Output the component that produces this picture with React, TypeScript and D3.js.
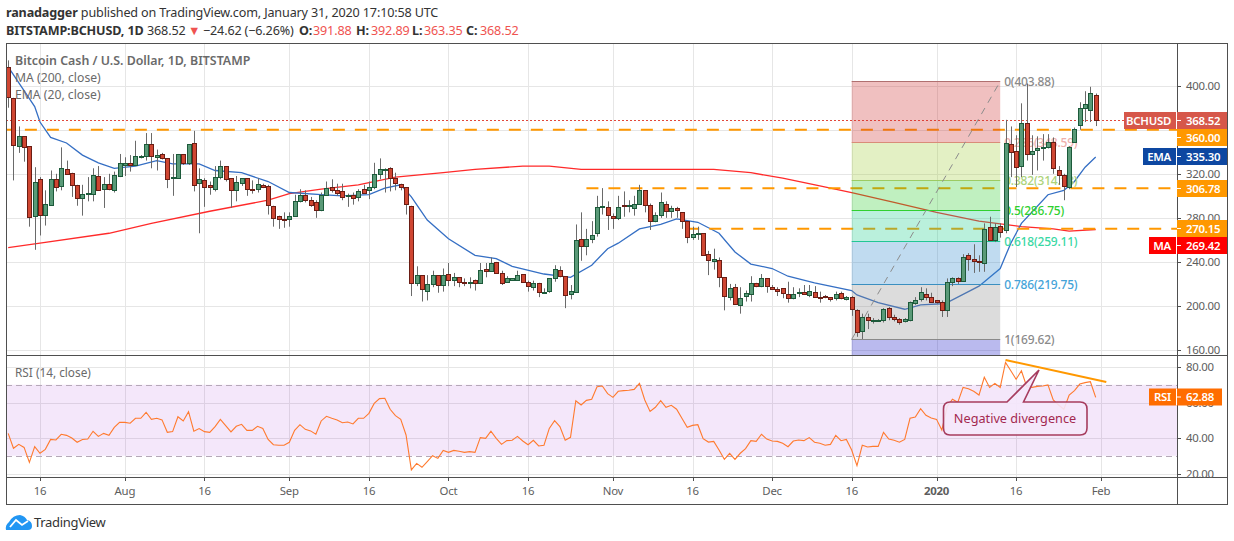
import React from "react";
import * as d3 from "d3";

const width = 1234;
const height = 541;

const firstDay = new Date(Date.UTC(2019, 6, 10));

// daily candles, Jul 10 2019 to Jan 31 2020
const opens = [417,389,345,354,345,282,315,283,292,315,309,324,321,310,298,302,302,318,306,311,305,318,328,330,328,335,336,347,335,338,334,316,316,338,330,348,312,314,310,306,317,327,316,305,312,316,306,306,310,309,291,282,279,279,282,295,301,296,294,287,301,308,305,304,300,301,299,306,305,308,320,323,325,316,311,308,291,221,228,214,220,228,219,229,224,226,222,221,224,221,234,232,240,230,222,224,224,229,222,217,221,212,214,225,233,227,211,213,261,254,261,266,290,290,282,280,292,291,289,293,305,292,277,283,293,286,289,285,277,263,265,266,247,241,242,226,208,217,201,209,211,221,218,225,217,215,216,211,207,212,213,210,213,208,209,208,207,212,206,208,196,177,190,187,187,187,198,190,188,186,187,203,206,211,208,205,204,196,222,225,223,246,243,241,239,272,260,273,269,347,341,327,366,338,342,343,344,349,323,319,308,349,364,380,378,391.88];
const highs = [423,389,363,354,345,326,317,305,323,320,344,332,321,310,310,317,325,327,317,320,322,338,335,337,350,337,357,357,342,339,334,338,338,338,347,359,325,316,313,327,332,327,316,318,316,316,314,316,311,310,291,282,285,285,301,306,305,299,296,303,313,315,311,311,302,303,306,310,313,330,334,325,326,321,311,308,291,236,228,228,232,228,234,239,230,226,225,226,224,239,239,244,240,232,227,225,232,229,223,223,221,216,225,237,236,227,219,274,285,270,277,300,307,295,284,300,304,296,300,310,305,293,285,303,295,291,290,285,277,272,272,266,250,252,244,226,220,220,217,214,227,221,229,225,219,217,216,222,217,216,219,219,218,213,210,208,213,213,209,209,197,193,193,189,188,198,199,192,189,189,204,208,217,216,212,205,205,225,226,226,247,248,256,246,275,281,275,275,369,363,355,384,402,355,354,356,356,353,327,320,345,362,385,395,399,392.89];
const lows = [380,314,339,331,272,251,264,273,292,304,305,319,299,291,282,295,295,305,289,305,303,317,318,322,328,334,332,325,323,333,307,300,316,328,328,304,266,290,301,304,315,313,289,295,309,300,302,303,307,283,272,270,271,272,281,294,294,290,280,286,300,303,300,296,290,292,295,302,297,306,315,303,304,305,305,283,209,218,204,205,217,212,213,218,218,217,218,216,214,220,226,231,229,219,221,224,223,221,213,214,208,212,212,222,226,198,206,213,241,246,257,263,283,269,270,278,281,285,282,292,285,269,276,280,280,280,280,270,257,260,260,246,228,233,217,196,205,201,193,204,204,217,217,212,215,209,207,203,206,208,210,208,208,203,207,204,205,206,205,191,172,170,179,184,186,185,187,186,183,185,186,201,204,205,203,202,190,190,218,220,222,232,230,231,231,259,258,262,266,317,308,317,332,319,323,332,343,320,310,296,306,349,360,367,367,363.35];
const closes = [390,346,354,344,281,313,283,293,315,308,325,320,310,298,302,303,319,305,311,306,319,330,330,328,336,336,347,336,337,334,315,317,338,330,347,310,315,308,308,317,327,315,305,313,316,306,305,311,308,292,280,279,278,282,295,301,296,292,287,301,307,305,303,299,301,298,304,303,308,320,324,324,316,312,308,293,221,228,215,220,228,219,228,224,226,222,221,222,221,233,232,239,230,221,225,225,228,222,218,221,213,213,225,234,227,210,214,260,254,261,264,290,291,283,280,290,291,292,293,305,292,277,283,294,286,289,287,277,263,265,266,246,242,243,226,209,216,202,207,212,221,218,225,218,215,214,212,207,211,213,211,214,208,207,208,206,211,207,208,197,176,190,187,187,187,197,190,188,185,188,204,205,213,208,204,204,196,222,225,223,244,243,241,240,270,260,272,267,348,340,326,366,338,341,343,344,349,325,319,309,344,361,380,383,393,368.52];

// indicator readings as [day since first candle] / value pairs
const emaDays = [0,5,6,8,11,14,17,20,24,28,31,36,39,44,49,53,59,63,68,71,74,76,78,79,83,88,92,95,101,106,110,113,115,119,123,126,130,134,137,140,144,147,152,159,160,164,169,172,176,177,183,187,189,191,196,199,201,203,205];
const emaValues = [417,381,367,353,348,337,330,325,327,332,329,329,323,321,313,303,301,300,301,307,310,299,285,278,261,246,243,236,229,226,237,252,257,270,274,279,276,266,249,238,234,227,221,214,210,203,197,201,202,203,218,234,257,275,301,305,313,326,335.3];
const maDays = [0,6,19,27,38,49,53,59,66,73,82,88,97,102,108,133,140,146,153,159,167,175,183,191,197,200,205];
const maValues = [253,257,266,275,286,296,302,306,310,317,321,324,327,327,324,324,321,316,309,303,294,285,277,272,270,268,269.42];
const rsiValues = [42.6,34.2,36.4,34.7,26.3,35.1,31.4,33.6,39.2,38.9,42.1,41.5,40,37.6,39.2,39.4,43.8,40.9,42.6,41.5,46,48.8,48.8,48.3,51.1,51.1,54.5,50.5,51.1,50.2,43.2,43.6,52,49.6,54.8,43.8,45.3,43.6,43.2,46.4,50.5,47,43.4,46.6,47.7,44.3,44.3,46.6,45.4,39.2,36.2,35.9,35.9,37.6,44.3,47.5,44.9,44,42.1,49.6,52.2,51.1,50.2,48.6,49,47.9,51.1,51.1,53.9,59.5,62.2,62.4,56.2,52.6,50.5,41.7,22,25.7,23.5,26.7,30,28.5,33,31.9,33,32.5,31.9,32.3,31.9,40.2,39.8,43.8,39.8,36.4,38.5,38.7,40.9,38.3,36.2,38.7,35.5,35.9,45.4,49.8,46.4,38.7,40.4,61,58.6,61.2,61.8,68.9,69.3,65,62.9,66.3,66.7,66.9,67.4,70.8,61.4,55,57.3,61,57.3,58.4,56.2,51.1,46,47.1,47.5,39.6,37.7,38.1,33.2,28,31.4,28,31.4,34,38.5,38.1,42.1,39.4,38.3,38.1,37,35.1,38.3,38.9,38.5,40.2,37.6,37,35.9,36.4,41.5,38.5,39.2,33.2,24.4,35.9,34.9,35.3,35.3,43.2,39.4,38.7,37.6,39.2,51.1,51.8,56.5,52.8,51.3,50.5,44.5,57.6,61.8,60.1,68.5,67.8,66.3,64.2,74.2,68.5,70.8,68.5,82.6,77.9,73.1,77.9,68.9,68.5,69.1,69.3,69.9,61.4,58.6,56.2,64.2,66.7,70.4,71.2,71.7,62.88];

// axis
const priceTicks = [160, 200, 240, 280, 320, 360, 400];
const hiddenPriceLabels = [360]; // sits right under the 360.00 level tag
const rsiTicks = [20, 40, 60, 80];
const timeTicks: [string, string][] = [
  ["2019-07-16", "16"], ["2019-08-01", "Aug"], ["2019-08-16", "16"], ["2019-09-01", "Sep"],
  ["2019-09-16", "16"], ["2019-10-01", "Oct"], ["2019-10-16", "16"], ["2019-11-01", "Nov"],
  ["2019-11-16", "16"], ["2019-12-01", "Dec"], ["2019-12-16", "16"], ["2020-01-01", "2020"],
  ["2020-01-16", "16"], ["2020-02-01", "Feb"],
];

// fib retracement
const fibStart = "2019-12-16";
const fibEnd = "2020-01-13";
const fibLevels = [0, 0.236, 0.382, 0.5, 0.618, 0.786, 1];
const fibPrices = [403.88, 348.59, 314.13, 286.75, 259.11, 219.75, 169.62];
const fibLabels = ["0(403.88)", "0.236(348.59)", "0.382(314.13)", "0.5(286.75)", "0.618(259.11)", "0.786(219.75)", "1(169.62)"];
const fibFills = ["rgb(205,45,45)", "rgb(162,205,58)", "rgb(45,205,45)", "rgb(28,205,138)", "rgb(45,135,205)", "rgb(138,138,138)", "rgb(25,25,198)"];
const fibLines = ["#b07070", "#d98c78", "#9ccb62", "#2fd02f", "#22c795", "#3a8fc0", "#8a8a8a"];
const fibText = ["#8a8a8a", "#eeb0ac", "#acd37a", "#2fd02f", "#3ad8a4", "#44a3d8", "#8a8a8a"];

// horizontal levels
const levelPrices = [360, 306.78, 270.15];
const levelStarts = ["2019-07-09", "2019-10-27", "2019-11-15"];

const trendDates = ["2020-01-14", "2020-02-02"];
const trendRsi = [84, 71.5];

const font = "'Noto Sans', sans-serif";
const grey = "#5d5d5d";
const up = { fill: "#5a9a78", line: "#1c5a3a" };
const down = { fill: "#cf4632", line: "#6a1d14" };

const left = 6;
const right = 1177;
const mainTop = 43;
const mainBottom = 355;
const rsiBottom = 477;
const frameBottom = 504;
const frameRight = 1227;

const parse = (s: string) => new Date(s + "T00:00:00Z");
const dayAt = (i: number) => d3.utcDay.offset(firstDay, i);

const x = d3.scaleUtc().domain([parse("2019-07-16"), parse("2020-02-01")]).range([40, 1101]);
const y = d3.scaleLinear().domain([400, 160]).range([85.7, 350]);
const yRsi = d3.scaleLinear().domain([80, 20]).range([367, 473.5]);

const priceLine = d3.line<[number, number]>().x((d) => x(dayAt(d[0]))).y((d) => y(d[1]));
const rsiLine = d3.line<number>().x((_, i) => x(dayAt(i))).y((d) => yRsi(d));

const crisp = (v: number) => Math.round(v) + 0.5;

const AxisTag = ({ top, h = 17, from, to = frameRight, name, value, fill }: any) => (
  <g fontFamily={font} fontSize={11.4} fontWeight={600} fill="#fff" letterSpacing={-0.25}>
    <rect x={from ?? right} y={top} width={to - (from ?? right)} height={h} fill={fill} />
    <line x1={right} x2={right + 4} y1={top + h / 2} y2={top + h / 2} stroke="#fff" />
    {name && (
      <>
        <line x1={right - 0.5} x2={right - 0.5} y1={top} y2={top + h} stroke="#fff" />
        <text x={1171} y={top + h / 2 + 4.2} textAnchor="end">{name}</text>
      </>
    )}
    <text x={1186} y={top + h / 2 + 4.2}>{value}</text>
  </g>
);

export default function App() {
  const fibX0 = x(parse(fibStart));
  const fibX1 = x(parse(fibEnd));
  const bandTop = yRsi(70);
  const bandBottom = yRsi(30);

  return (
    <svg width={width} height={height} style={{ position: "absolute", top: 0, left: 0, background: "#fff" }}>
      <defs>
        <clipPath id="main"><rect x={left} y={mainTop} width={right - left} height={mainBottom - mainTop} /></clipPath>
        <clipPath id="rsi"><rect x={left} y={mainBottom} width={right - left} height={rsiBottom - mainBottom} /></clipPath>
      </defs>

      {/* header */}
      <text x={6} y={17} fontFamily={font} fontSize={12.6} letterSpacing={-0.15} fill="#333">
        <tspan fontWeight={700}>ranadagger</tspan> published on TradingView.com, January 31, 2020 17:10:58 UTC
      </text>
      <text y={35} fontFamily={font} fontSize={12.6} letterSpacing={-0.15} fill="#333">
        <tspan x={6} fontWeight={700}>BITSTAMP:BCHUSD, 1D</tspan>
        <tspan x={147}>368.52</tspan>
        <tspan x={188} fill="#ef5350">▼</tspan>
        <tspan x={203}>−24.62 (−6.26%)</tspan>
        <tspan x={299} fontWeight={700}>O:</tspan><tspan x={313} fill="#ef5350">391.88</tspan>
        <tspan x={356} fontWeight={700}>H:</tspan><tspan x={371} fill="#ef5350">392.89</tspan>
        <tspan x={412} fontWeight={700}>L:</tspan><tspan x={424} fill="#ef5350">363.35</tspan>
        <tspan x={466} fontWeight={700}>C:</tspan><tspan x={480} fill="#ef5350">368.52</tspan>
      </text>

      {/* grid */}
      <g stroke="#e6e6e6" strokeWidth={1}>
        {timeTicks.map(([d]) => (
          <line key={d} x1={crisp(x(parse(d)))} x2={crisp(x(parse(d)))} y1={mainTop} y2={rsiBottom} />
        ))}
        {priceTicks.map((t) => (
          <line key={t} x1={left} x2={right} y1={crisp(y(t))} y2={crisp(y(t))} />
        ))}
        {rsiTicks.map((t) => (
          <line key={t} x1={left} x2={right} y1={crisp(yRsi(t))} y2={crisp(yRsi(t))} />
        ))}
      </g>

      {/* main pane */}
      <g clipPath="url(#main)">
        <path d={priceLine(maDays.map((d, i) => [d, maValues[i]]))!} fill="none" stroke="#ff2a2a" strokeWidth={1.3} />
        <path d={priceLine(emaDays.map((d, i) => [d, emaValues[i]]))!} fill="none" stroke="#356fc4" strokeWidth={1.3} />
        {levelPrices.map((p, i) => (
          <line key={p} x1={x(parse(levelStarts[i]))} x2={right} y1={y(p)} y2={y(p)} stroke="#ff9800" strokeWidth={2} strokeDasharray="12 10" />
        ))}
        <line x1={left} x2={1124} y1={crisp(y(368.52))} y2={crisp(y(368.52))} stroke="#e2483a" strokeDasharray="2 2" />

        {fibLevels.map((_, i) => (
          <rect
            key={i}
            x={fibX0}
            width={fibX1 - fibX0}
            y={y(fibPrices[i])}
            height={(i < 6 ? y(fibPrices[i + 1]) : mainBottom) - y(fibPrices[i])}
            fill={fibFills[i]}
            opacity={0.3}
          />
        ))}
        {fibPrices.map((p, i) => (
          <line key={p} x1={fibX0} x2={fibX1} y1={crisp(y(p))} y2={crisp(y(p))} stroke={fibLines[i]} />
        ))}
        <line x1={fibX0} x2={fibX1} y1={y(169.62)} y2={y(403.88)} stroke="#8c8c8c" strokeDasharray="7 6" />
        {fibLabels.map((s, i) => (
          <text key={s} x={fibX1 + 4} y={y(fibPrices[i]) + 5} fontFamily={font} fontSize={12} letterSpacing={-0.2} fontWeight={500} fill={fibText[i]}>{s}</text>
        ))}

        {opens.map((o, i) => {
          const c = closes[i];
          const col = c >= o ? up : down;
          const cx = Math.round(x(dayAt(i)));
          const top = crisp(y(Math.max(o, c)));
          const bottom = crisp(y(Math.min(o, c)));
          return (
            <g key={i}>
              <line x1={cx + 0.5} x2={cx + 0.5} y1={y(highs[i])} y2={y(lows[i])} stroke="#6a6a6a" />
              <rect x={cx - 1.5} y={top} width={4} height={Math.max(bottom - top, 1)} fill={col.fill} stroke={col.line} strokeWidth={1} />
            </g>
          );
        })}
      </g>

      {/* rsi pane */}
      <g clipPath="url(#rsi)">
        <rect x={left} width={right - left} y={bandTop} height={bandBottom - bandTop} fill="#9c27d0" opacity={0.11} />
        <line x1={left} x2={right} y1={crisp(bandTop)} y2={crisp(bandTop)} stroke="#b5a8b8" strokeDasharray="6 4" />
        <line x1={left} x2={right} y1={crisp(bandBottom)} y2={crisp(bandBottom)} stroke="#b5a8b8" strokeDasharray="6 4" />
        <path d={rsiLine(rsiValues)!} fill="none" stroke="#ff7a2e" strokeWidth={1.1} />
        <line
          x1={x(parse(trendDates[0]))}
          x2={x(parse(trendDates[1]))}
          y1={yRsi(trendRsi[0])}
          y2={yRsi(trendRsi[1])}
          stroke="#ff9800"
          strokeWidth={2}
        />
      </g>

      {/* callout */}
      <path
        d="M950 402 H1007 L1039 370 L1023.5 402 H1080 Q1087 402 1087 409 V428 Q1087 435 1080 435 H950 Q943.5 435 943.5 428 V409 Q943.5 402 950 402 Z"
        fill="#f5e8fb"
        fillOpacity={0.9}
        stroke="#a63c5e"
        strokeWidth={1.6}
      />
      <text x={1015} y={422.5} textAnchor="middle" fontFamily={font} fontSize={12.7} fill="#a3284f">Negative divergence</text>

      {/* legends */}
      <g fontFamily={font} fontSize={12.2} fill="#6a6a6a">
        <text x={15} y={65} fontSize={12.4} fontWeight={600}>Bitcoin Cash / U.S. Dollar, 1D, BITSTAMP</text>
        <text x={15} y={82}>MA (200, close)</text>
        <text x={15} y={99}>EMA (20, close)</text>
        <text x={15} y={377} fontSize={11.8}>RSI (14, close)</text>
      </g>

      {/* frame */}
      <g fill="none" stroke="#4f4f4f" strokeWidth={1}>
        <rect x={left + 0.5} y={mainTop + 0.5} width={frameRight - left} height={frameBottom - mainTop} />
        <line x1={right + 0.5} x2={right + 0.5} y1={mainTop} y2={frameBottom} />
        <line x1={left} x2={frameRight} y1={mainBottom + 0.5} y2={mainBottom + 0.5} />
        <line x1={left} x2={frameRight} y1={rsiBottom + 0.5} y2={rsiBottom + 0.5} />
      </g>

      {/* axes */}
      <g fontFamily={font} fontSize={11.4} letterSpacing={-0.25} fill={grey}>
        {priceTicks.map((t) => (
          <g key={t}>
            <line x1={right} x2={right + 4} y1={crisp(y(t))} y2={crisp(y(t))} stroke="#4f4f4f" />
            {!hiddenPriceLabels.includes(t) && <text x={1186} y={y(t) + 4.2}>{t.toFixed(2)}</text>}
          </g>
        ))}
        {rsiTicks.map((t) => (
          <g key={t}>
            <line x1={right} x2={right + 4} y1={crisp(yRsi(t))} y2={crisp(yRsi(t))} stroke="#4f4f4f" />
            <text x={1186} y={yRsi(t) + 4.2}>{t.toFixed(2)}</text>
          </g>
        ))}
        {timeTicks.map(([d, s]) => (
          <g key={d}>
            <line x1={crisp(x(parse(d)))} x2={crisp(x(parse(d)))} y1={rsiBottom} y2={rsiBottom + 4} stroke="#4f4f4f" />
            <text x={x(parse(d))} y={495} textAnchor="middle" fontWeight={s === "2020" ? 700 : 400}>{s}</text>
          </g>
        ))}
      </g>

      <AxisTag top={112} from={1124} name="BCHUSD" value="368.52" fill="#d6574a" />
      <AxisTag top={129} value="360.00" fill="#ff9800" />
      <AxisTag top={148} from={1143} name="EMA" value="335.30" fill="#0d47a1" />
      <AxisTag top={180} value="306.78" fill="#ff9800" />
      <AxisTag top={220} value="270.15" fill="#ff9800" />
      <AxisTag top={237} from={1149} name="MA" value="269.42" fill="#ff0000" />
      <AxisTag top={388.5} from={1149} to={1222} name="RSI" value="62.88" fill="#ff6d00" />

      {/* logo */}
      <path
        d="M6 530 Q5 525 9 522 Q13 515 20 515 Q25 516 27 520 Q32 521 32 526 Q32 530 28 530 Z"
        fill="#2196f3"
      />
      <path d="M10 527 L16 520 L22 525 L28 521" fill="none" stroke="#fff" strokeWidth={1.8} />
      <text x={34} y={527} fontFamily={font} fontSize={13} letterSpacing={-0.3} fill="#333">TradingView</text>
    </svg>
  );
}
